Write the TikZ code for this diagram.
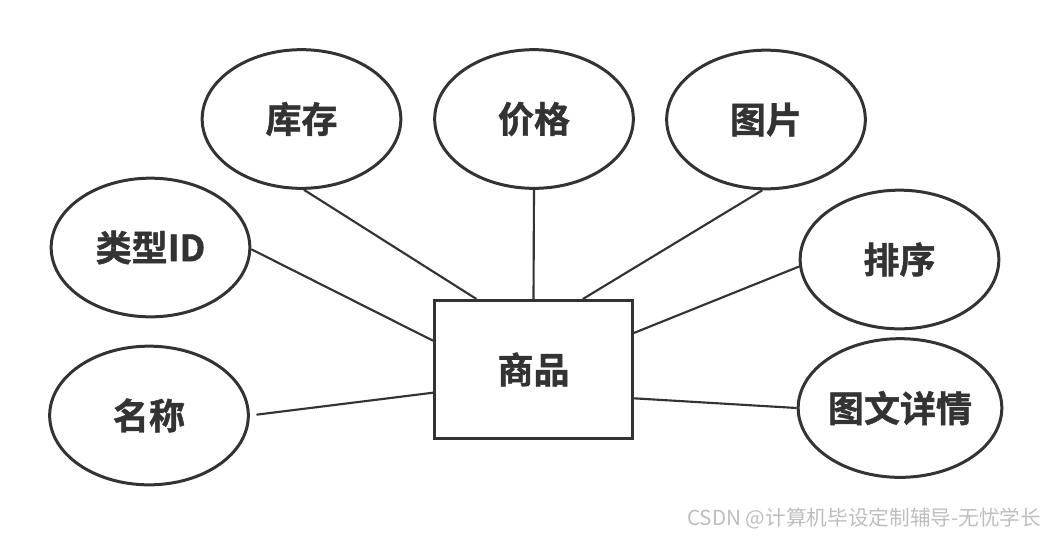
\documentclass[tikz,border=0pt]{standalone}
\usepackage{fontspec}
\setmainfont{Noto Sans CJK SC}
\newfontfamily\cjkbold[FakeBold=1.2]{Noto Sans CJK SC Bold}
\usetikzlibrary{shapes.geometric}
\definecolor{ink}{HTML}{333333}
\definecolor{mark-grey}{HTML}{BEBEBE}
\tikzset{
  attr/.style={ellipse, draw=ink, line width=2.25pt, fill=white,
    minimum width=149pt, minimum height=104pt, inner sep=0pt,
    font=\cjkbold\fontsize{27pt}{30pt}\selectfont, text=ink},
  entity/.style={rectangle, draw=ink, line width=2.25pt, fill=white,
    minimum width=148.5pt, minimum height=103.5pt, inner sep=0pt,
    font=\cjkbold\fontsize{27pt}{30pt}\selectfont, text=ink},
  link/.style={draw=ink, line width=1.6pt},
  % Watermark in the lower right corner
  watermark/.style={font=\fontsize{15.5pt}{18pt}\selectfont, text=mark-grey, anchor=east}
}

\begin{document}
\begin{tikzpicture}[x=0.75pt, y=-0.75pt]
  \useasboundingbox (0,0) rectangle (1050,536);

  % ---- Entity --------------------------------------------------------------
  \node[entity] (Goods) at (533.5, 369.5) {商品};

  % ---- Attributes ----------------------------------------------------------
  \node[attr] (Stock)  at (301.5, 119)   {库存};
  \node[attr] (Price)  at (534, 119)     {价格};
  \node[attr] (Image)  at (766, 119.5)   {图片};
  \node[attr] (TypeId) at (150.5, 247.5) {类型ID};
  \node[attr] (Sort)   at (899.5, 259.5) {排序};
  \node[attr] (Name)   at (149, 415.5)   {名称};
  \node[attr] (Detail) at (900, 408)     {图文详情};

  % ---- Links to the entity -------------------------------------------------
  \draw[link] (Stock.272.8)  -- (Goods.129.2);
  \draw[link] (Price.270)    -- (Goods.90);
  \draw[link] (Image.267.6)  -- (Goods.55.5);
  \draw[link] (TypeId.359)   -- (Goods.164.2);
  \draw[link] (Sort.184.2)   -- (Goods.20);
  \draw[link, shorten <=5pt] (Name.0) -- (Goods.193.7);
  \draw[link] (Detail.180)   -- (Goods.344.7);

  % ---- Watermark -----------------------------------------------------------
  \node[watermark] (Mark) at (1046, 519) {CSDN @计算机毕设定制辅导-无忧学长};

\end{tikzpicture}
\end{document}
